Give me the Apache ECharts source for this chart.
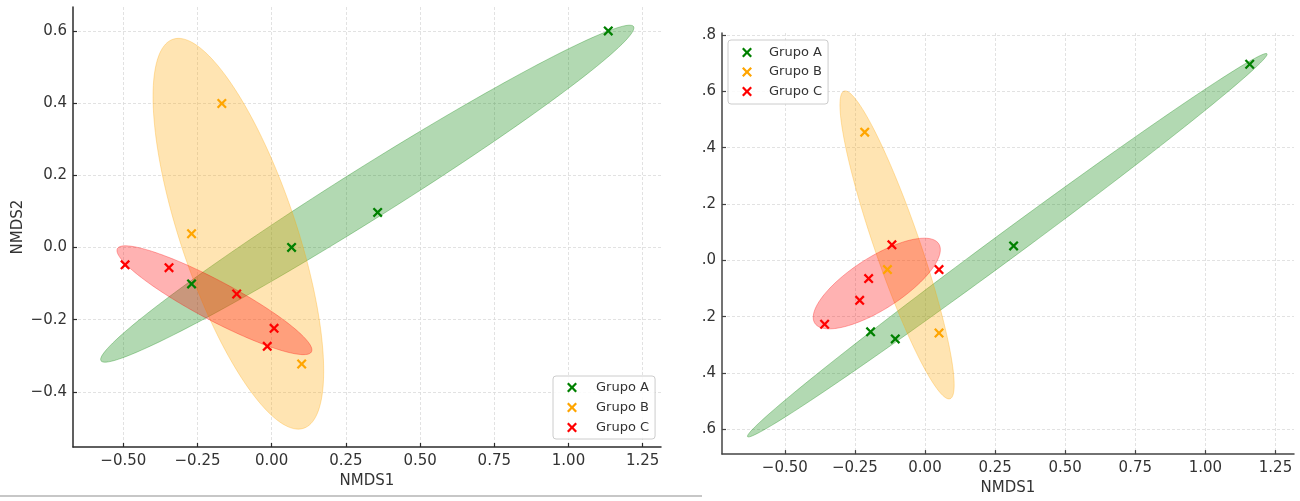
<!DOCTYPE html>
<html>
<head>
<meta charset="utf-8">
<script src="https://cdn.jsdelivr.net/npm/echarts@6/dist/echarts.min.js"></script>
<style>
  html, body { margin: 0; padding: 0; background: #fff; }
  #chart { width: 1300px; height: 501px; }
</style>
</head>
<body>
<div id="chart"></div>
<script>
// NMDS ordination of three groups, shown in two panels with covariance ellipses.

const groups = ['Grupo A', 'Grupo B', 'Grupo C'];
const groupColors = ['#008000', '#FFA500', '#FF0000'];
const groupRGB = [[0, 128, 0], [255, 165, 0], [255, 0, 0]];

// Left panel: [NMDS1, NMDS2]
const leftA = [[1.134, 0.600], [0.357, 0.097], [0.067, 0.000], [-0.270, -0.101]];
const leftB = [[-0.168, 0.399], [-0.270, 0.038], [0.101, -0.323]];
const leftC = [[-0.494, -0.048], [-0.346, -0.056], [-0.118, -0.129], [0.008, -0.224], [-0.015, -0.274]];

// Right panel: [NMDS1, NMDS2]
const rightA = [[1.158, 0.696], [0.316, 0.051], [-0.194, -0.254], [-0.106, -0.279]];
const rightB = [[-0.215, 0.455], [-0.134, -0.033], [0.050, -0.258]];
const rightC = [[-0.358, -0.227], [-0.233, -0.142], [-0.201, -0.065], [-0.118, 0.055], [0.050, -0.033]];

// Tick positions and their printed labels
const xTicks = [-0.5, -0.25, 0, 0.25, 0.5, 0.75, 1, 1.25];
const xTickLabels = ['−0.50', '−0.25', '0.00', '0.25', '0.50', '0.75', '1.00', '1.25'];
const leftYTicks = [-0.4, -0.2, 0, 0.2, 0.4, 0.6];
const leftYTickLabels = ['−0.4', '−0.2', '0.0', '0.2', '0.4', '0.6'];
const rightYTicks = [-0.6, -0.4, -0.2, 0, 0.2, 0.4, 0.6, 0.8];
const rightYTickLabels = ['.6', '.4', '.2', '.0', '.2', '.4', '.6', '.8'];

// Ellipse radius in standard deviations
const N_STD = 1.5;

const FONT = 'DejaVu Sans';
const X_MARK = 'path://M0,1.6L1.6,0L5,3.4L8.4,0L10,1.6L6.6,5L10,8.4L8.4,10L5,6.6L1.6,10L0,8.4L3.4,5Z';

function rgba(c, a) { return 'rgba(' + c[0] + ',' + c[1] + ',' + c[2] + ',' + a + ')'; }

// Covariance (confidence) ellipse outline of a point set, in data coordinates
function confidenceRing(points, nStd, steps) {
  const n = points.length;
  const mx = points.reduce((s, p) => s + p[0], 0) / n;
  const my = points.reduce((s, p) => s + p[1], 0) / n;
  let sxx = 0, syy = 0, sxy = 0;
  points.forEach(p => {
    sxx += (p[0] - mx) * (p[0] - mx);
    syy += (p[1] - my) * (p[1] - my);
    sxy += (p[0] - mx) * (p[1] - my);
  });
  sxx /= (n - 1); syy /= (n - 1); sxy /= (n - 1);
  const pearson = sxy / Math.sqrt(sxx * syy);
  const rx = Math.sqrt(1 + pearson), ry = Math.sqrt(1 - pearson);
  const sx = Math.sqrt(sxx) * nStd, sy = Math.sqrt(syy) * nStd;
  const ring = [];
  for (let i = 0; i < steps; i++) {
    const t = 2 * Math.PI * i / steps;
    const u = rx * Math.cos(t), v = ry * Math.sin(t);
    const xr = (u - v) / Math.SQRT2, yr = (u + v) / Math.SQRT2;
    ring.push([mx + xr * sx, my + yr * sy]);
  }
  return ring;
}

function ellipseSeries(points, gi, axisIdx) {
  const ring = confidenceRing(points, N_STD, 160);
  return {
    type: 'custom',
    name: groups[gi] + ' elipse',
    xAxisIndex: axisIdx, yAxisIndex: axisIdx,
    data: [[0, 0]],
    silent: true,
    clip: false,
    z: 1,
    renderItem: (params, api) => ({
      type: 'polygon',
      shape: { points: ring.map(p => api.coord(p)) },
      style: { fill: rgba(groupRGB[gi], 0.3), stroke: rgba(groupRGB[gi], 0.3), lineWidth: 1 }
    })
  };
}

function pointSeries(points, gi, axisIdx) {
  return {
    type: 'scatter',
    name: groups[gi],
    xAxisIndex: axisIdx, yAxisIndex: axisIdx,
    data: points,
    symbol: X_MARK,
    symbolSize: 10,
    itemStyle: { color: groupColors[gi], opacity: 1 },
    z: 3
  };
}

function labelFor(ticks, labels) {
  return v => {
    const i = ticks.findIndex(t => Math.abs(t - v) < 1e-9);
    return i < 0 ? '' : labels[i];
  };
}

const GRID_LINE = { color: '#dadada', width: 0.8, type: [3, 2] };

function xAxisFor(gridIndex, min, max, nameGap, lineColor) {
  return {
    type: 'value', gridIndex, min, max,
    name: 'NMDS1', nameLocation: 'middle', nameGap,
    nameTextStyle: { fontFamily: FONT, fontSize: 15, color: '#333' },
    axisLine: { show: true, onZero: false, lineStyle: { color: lineColor, width: 1.5 } },
    axisTick: { show: true, inside: true, length: 4, customValues: xTicks, lineStyle: { color: lineColor, width: 1.2 } },
    axisLabel: { customValues: xTicks, formatter: labelFor(xTicks, xTickLabels), fontFamily: FONT, fontSize: 15, color: '#333', margin: 7 },
    splitLine: { show: true, lineStyle: GRID_LINE }
  };
}

function yAxisFor(gridIndex, min, max, ticks, labels, name, lineColor) {
  return {
    type: 'value', gridIndex, min, max,
    name, nameLocation: 'middle', nameGap: 47,
    nameTextStyle: { fontFamily: FONT, fontSize: 15, color: '#333' },
    axisLine: { show: true, onZero: false, lineStyle: { color: lineColor, width: 1.5 } },
    axisTick: { show: true, inside: true, length: 4, customValues: ticks, lineStyle: { color: lineColor, width: 1.2 } },
    axisLabel: { customValues: ticks, formatter: labelFor(ticks, labels), fontFamily: FONT, fontSize: 15, color: '#333', margin: 6 },
    splitLine: { show: true, lineStyle: GRID_LINE }
  };
}

function legendAt(left, top, padTop, padLeft, textPad, gap) {
  return {
    orient: 'vertical', left, top,
    data: groups.map(n => ({ name: n, icon: X_MARK })),
    itemWidth: 10, itemHeight: 10, itemGap: gap,
    padding: [padTop, 6, padTop, padLeft],
    backgroundColor: 'rgba(255,255,255,0.85)',
    borderColor: '#cccccc', borderWidth: 1, borderRadius: 3,
    selectedMode: false,
    textStyle: { fontFamily: FONT, fontSize: 13, color: '#333', padding: [0, 0, 0, textPad] }
  };
}

const chart = echarts.init(document.getElementById('chart'), null, { renderer: 'canvas' });

chart.setOption({
  animation: false,
  backgroundColor: '#ffffff',
  grid: [
    { left: 73, top: 7, width: 588, height: 440, containLabel: false },
    { left: 722, top: 33, width: 572, height: 429, containLabel: false }
  ],
  xAxis: [
    xAxisFor(0, -0.6695, 1.3117, 24, '#2b2b2b'),
    xAxisFor(1, -0.724, 1.316, 23, '#444')
  ],
  yAxis: [
    yAxisFor(0, -0.553, 0.6664, leftYTicks, leftYTickLabels, 'NMDS2', '#2b2b2b'),
    yAxisFor(1, -0.688, 0.807, rightYTicks, rightYTickLabels, '', '#444')
  ],
  legend: [
    legendAt(553, 376, 5, 14, 14, 7),
    legendAt(728, 40, 6, 14, 12, 6.5)
  ],
  graphic: [
    { type: 'line', shape: { x1: 0, y1: 496, x2: 702, y2: 496 }, style: { stroke: '#b4b4b4', lineWidth: 1.5 }, silent: true }
  ],
  series: [
    ellipseSeries(leftA, 0, 0), ellipseSeries(leftB, 1, 0), ellipseSeries(leftC, 2, 0),
    ellipseSeries(rightA, 0, 1), ellipseSeries(rightB, 1, 1), ellipseSeries(rightC, 2, 1),
    pointSeries(leftA, 0, 0), pointSeries(leftB, 1, 0), pointSeries(leftC, 2, 0),
    pointSeries(rightA, 0, 1), pointSeries(rightB, 1, 1), pointSeries(rightC, 2, 1)
  ]
});
</script>
</body>
</html>
